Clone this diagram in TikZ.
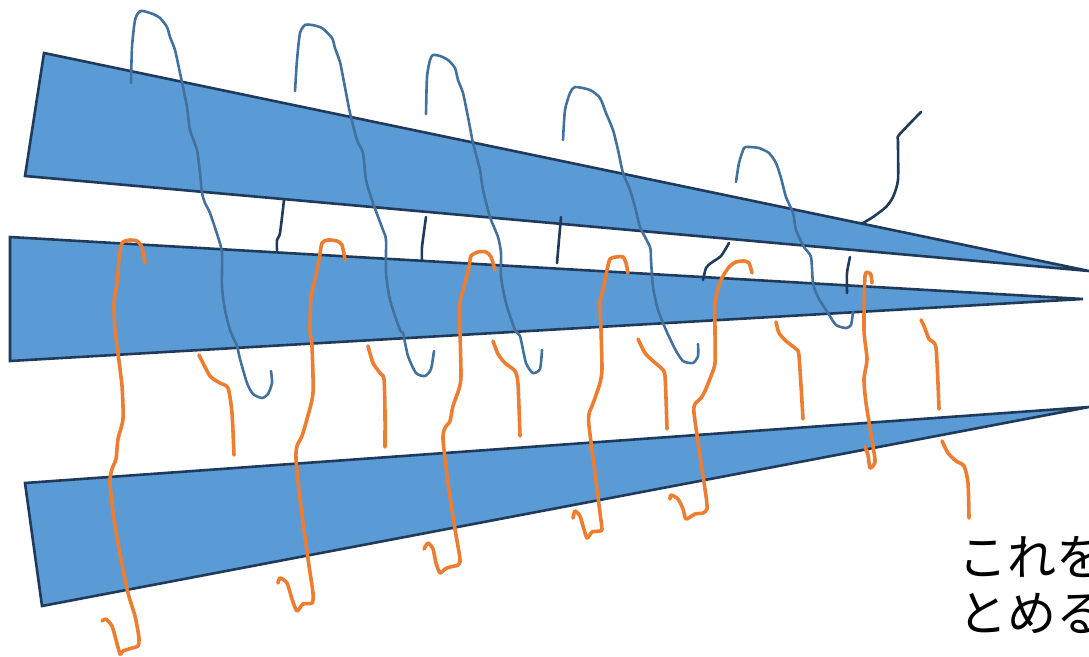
\documentclass[tikz,border=0pt]{standalone}
\usepackage{fontspec}
\newfontfamily\jpfont{Noto Sans CJK JP}
\definecolor{wedgefill}{HTML}{5B9BD5}
\definecolor{wedgeline}{HTML}{1F3A5A}
\definecolor{threadblue}{HTML}{41719C}
\definecolor{threadorange}{HTML}{ED7D31}

\begin{document}
\begin{tikzpicture}[
        x=1pt, y=-1pt,
        wedge/.style={fill=wedgefill, draw=wedgeline, line width=2.6pt, line join=miter},
        bluethread/.style={draw=threadblue, line width=2.6pt, line cap=round, line join=round},
        darkthread/.style={draw=wedgeline, line width=2.6pt, line cap=round, line join=round},
        orangethread/.style={draw=threadorange, line width=3.6pt, line cap=round, line join=round},
        note/.style={font=\jpfont\fontsize{49}{56}\selectfont, inner sep=0pt, anchor=base west}
    ]
    \useasboundingbox (0,0) rectangle (1089,656);
    \clip (0,0) rectangle (1089,656);

    % the three wedges
    \draw[wedge] (44,53) -- (1089,271) -- (25,176) -- cycle;
    \draw[wedge] (10,237) -- (1083,299) -- (10,361) -- cycle;
    \draw[wedge] (25,483) -- (1089,407) -- (42,606) -- cycle;

    % blue threads
    \draw[bluethread] plot[smooth, tension=0.4] coordinates {(131,83) (132,47) (135,20) (139,12) (143,11) (153,14) (160,18) (167,27) (170,37) (175,50) (180,73) (183,87) (187,107) (190,130) (197,150) (200,173) (202,193) (205,203) (210,213) (218,237) (222,253) (222,287) (225,310) (230,330) (237,346) (240,359) (247,383) (253,394) (262,398) (268,394) (272,383) (271,371)};
    \draw[bluethread] plot[smooth, tension=0.4] coordinates {(295,91) (297,60) (300,33) (305,25) (312,25) (322,28) (332,38) (335,48) (340,62) (343,77) (350,113) (357,140) (363,153) (366,180) (373,203) (383,230) (386,240) (386,273) (390,300) (400,330) (403,333) (408,356) (416,373) (425,376) (431,369) (434,351)};
    \draw[bluethread] plot[smooth, tension=0.4] coordinates {(426,114) (427,77) (430,60) (433,55) (440,56) (448,60) (455,68) (458,80) (463,93) (468,117) (473,143) (480,170) (483,190) (490,217) (498,237) (501,253) (501,277) (506,303) (515,330) (520,336) (526,363) (533,373) (540,369) (542,350)};
    \draw[bluethread] plot[smooth, tension=0.4] coordinates {(563,140) (565,110) (570,93) (575,87) (590,90) (600,98) (606,113) (613,130) (618,150) (623,173) (630,190) (635,207) (640,227) (650,247) (651,260) (653,287) (658,310) (666,330) (675,349) (683,361) (693,363) (698,356) (698,344)};
    \draw[bluethread] plot[smooth, tension=0.4] coordinates {(736,182) (739,163) (744,148) (749,147) (759,148) (769,153) (776,163) (781,178) (786,197) (793,213) (796,230) (804,247) (811,257) (813,283) (818,297) (828,313) (836,325) (846,328) (851,325) (853,312)};

    % dark strokes
    \draw[darkthread] plot[smooth, tension=0.4] coordinates {(284,200) (280,233) (277,240) (277,250)};
    \draw[darkthread] plot[smooth, tension=0.4] coordinates {(426,217) (422,247) (422,260)};
    \draw[darkthread] (561,217) -- (557,263);
    \draw[darkthread] plot[smooth, tension=0.4] coordinates {(729,243) (721,256) (711,263) (706,268) (703,280)};
    \draw[darkthread] plot[smooth, tension=0.4] coordinates {(850,257) (847,273) (847,293)};
    \draw[darkthread] plot[smooth, tension=0.4] coordinates {(921,112) (899,135) (898,142) (898,180) (893,197) (886,207) (873,217) (863,223)};

    % orange threads
    \draw[orangethread] plot[smooth, tension=0.4] coordinates {(145,263) (142,247) (137,241) (130,240) (122,243) (119,260) (117,283) (114,303) (115,330) (117,346) (122,386) (123,419) (118,439) (116,459) (112,469) (110,483) (115,526) (127,589) (135,616) (139,638) (138,646) (132,648) (123,651) (120,654) (115,636) (112,626) (106,619) (102,621)};
    \draw[orangethread] plot[smooth, tension=0.4] coordinates {(345,260) (342,245) (337,241) (328,240) (322,243) (319,260) (315,280) (311,297) (310,330) (312,346) (313,393) (307,419) (302,436) (297,446) (296,459) (300,499) (308,559) (313,593) (312,603) (303,604) (297,611) (292,599) (287,583) (280,578) (278,583)};
    \draw[orangethread] plot[smooth, tension=0.4] coordinates {(495,270) (491,257) (486,252) (478,252) (471,256) (469,267) (465,283) (460,303) (460,330) (461,376) (459,389) (453,406) (450,421) (445,428) (443,439) (448,483) (455,529) (460,559) (458,565) (450,567) (445,569) (440,573) (436,563) (433,549) (428,543) (424,549)};
    \draw[orangethread] plot[smooth, tension=0.4] coordinates {(628,273) (626,263) (623,257) (616,257) (610,259) (607,270) (603,290) (600,302) (601,330) (602,369) (600,383) (595,398) (592,406) (589,414) (589,426) (595,473) (600,513) (602,529) (600,531) (592,532) (587,538) (583,526) (580,516) (575,511) (573,518)};
    \draw[orangethread] plot[smooth, tension=0.4] coordinates {(752,273) (749,263) (744,261) (736,262) (729,267) (721,280) (715,302) (715,330) (715,363) (711,376) (705,391) (701,398) (695,404) (694,413) (700,456) (706,496) (707,509) (703,513) (695,514) (686,519) (683,509) (678,499) (671,495) (670,499)};
    \draw[orangethread] plot[smooth, tension=0.4] coordinates {(872,283) (871,275) (869,273) (865,276) (864,330) (867,359) (864,379) (866,403) (873,446) (875,462) (870,468) (868,455) (865,447)};
    \draw[orangethread] plot[smooth, tension=0.4] coordinates {(199,355) (210,376) (220,383) (228,388) (232,413) (234,455)};
    \draw[orangethread] plot[smooth, tension=0.4] coordinates {(368,346) (373,363) (380,373) (384,379) (385,413) (385,447)};
    \draw[orangethread] plot[smooth, tension=0.4] coordinates {(493,341) (498,354) (505,363) (515,371) (518,384) (520,436)};
    \draw[orangethread] plot[smooth, tension=0.4] coordinates {(638,339) (645,353) (653,361) (661,368) (665,376) (667,429)};
    \draw[orangethread] plot[smooth, tension=0.4] coordinates {(776,322) (779,333) (786,341) (796,349) (799,356) (803,419)};
    \draw[orangethread] plot[smooth, tension=0.4] coordinates {(921,320) (924,326) (929,339) (936,348) (939,409)};
    \draw[orangethread] plot[smooth, tension=0.4] coordinates {(942,441) (948,453) (956,461) (964,466) (968,483) (969,518)};

    % text at the right edge
    \node[note] (line1) at (958,575) {これを};
    \node[note] (line2) at (958,631) {とめる};
\end{tikzpicture}
\end{document}
